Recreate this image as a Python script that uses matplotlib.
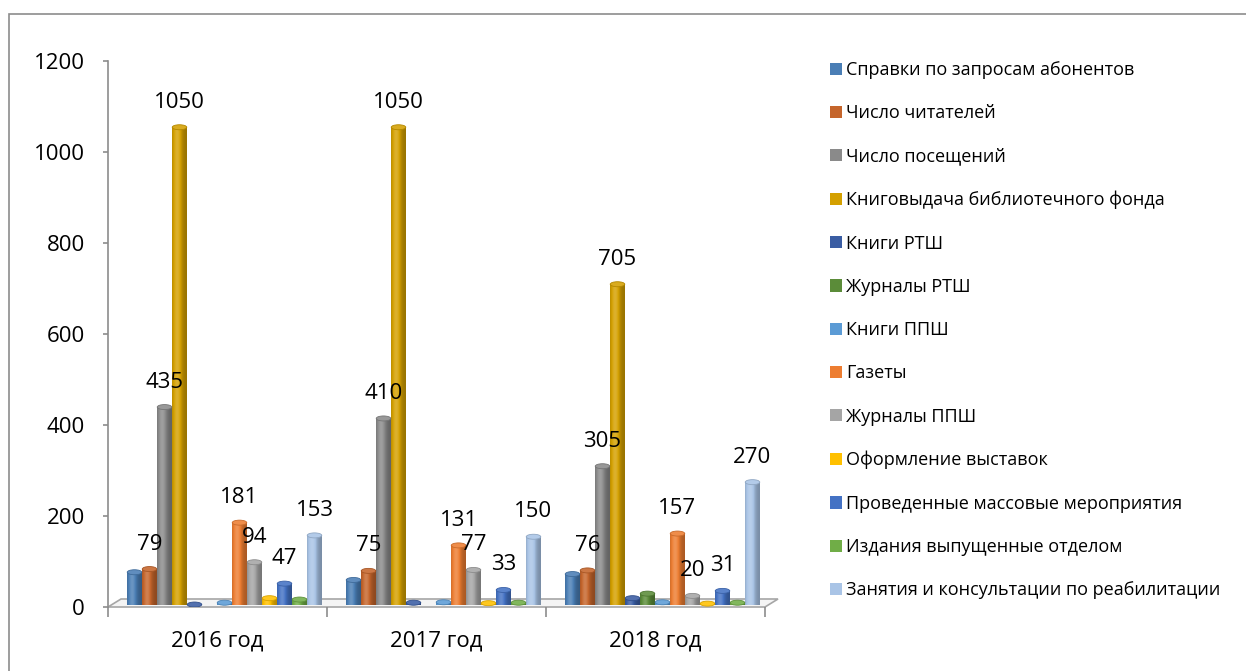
import numpy as np
import matplotlib
matplotlib.use("Agg")
import matplotlib.pyplot as plt
from matplotlib.patches import Rectangle, Ellipse, Polygon
from matplotlib.colors import to_rgb

plt.rcParams['font.family'] = ['Open Sans', 'DejaVu Sans']

# ---------------- data ----------------
years = ["2016 год", "2017 год", "2018 год"]
series_names = [
    "Справки по запросам абонентов",
    "Число читателей",
    "Число посещений",
    "Книговыдача библиотечного фонда",
    "Книги РТШ",
    "Журналы РТШ",
    "Книги ППШ",
    "Газеты",
    "Журналы ППШ",
    "Оформление выставок",
    "Проведенные массовые мероприятия",
    "Издания выпущенные отделом",
    "Занятия и консультации по реабилитации",
]
spravki = [72, 55, 68]
chitateli = [79, 75, 76]
poseshcheniya = [435, 410, 305]
knigovydacha = [1050, 1050, 705]
knigi_rtsh = [1, 5, 15]
zhurnaly_rtsh = [0, 0, 25]
knigi_ppsh = [5, 6, 6]
gazety = [181, 131, 157]
zhurnaly_ppsh = [94, 77, 20]
vystavki = [15, 4, 3]
meropriyatiya = [47, 33, 31]
izdaniya = [12, 5, 5]
zanyatiya = [153, 150, 270]
series_values = [spravki, chitateli, poseshcheniya, knigovydacha, knigi_rtsh,
                 zhurnaly_rtsh, knigi_ppsh, gazety, zhurnaly_ppsh, vystavki,
                 meropriyatiya, izdaniya, zanyatiya]
labelled = {"Число читателей", "Число посещений", "Книговыдача библиотечного фонда",
            "Газеты", "Журналы ППШ", "Проведенные массовые мероприятия",
            "Занятия и консультации по реабилитации"}
colors = ['#4A7EB5', '#C5652B', '#8A8A8A', '#D4A000', '#3A5DA3', '#5B8C39',
          '#5B9BD5', '#ED7D31', '#A5A5A5', '#FFC000', '#4472C4', '#70AD47', '#A9C4E6']

# ---------------- figure ----------------
W, H = 1246, 671
fig = plt.figure(figsize=(W / 100, H / 100), dpi=100)
ax_l, ax_r, ax_b, ax_t = 108, 765, 607, 61
ax = fig.add_axes([ax_l / W, 1 - ax_b / H, (ax_r - ax_l) / W, (ax_b - ax_t) / H])

fig.add_artist(Rectangle((9 / W, -0.1), 2, (H - 14) / H + 0.1, transform=fig.transFigure,
                         fill=False, edgecolor='#8c8c8c', lw=1.2))

px_per_unit = (ax_b - ax_t) / 1200.0
px_per_cat = (ax_r - ax_l) / 3.0
slot = 15 / px_per_cat
bw = slot * 0.97
offset = 7 / px_per_cat
base = 2 / px_per_unit
cap_h = 5 / px_per_unit

# floor
dx, dy = 13 / px_per_cat, 8 / px_per_unit
floor = Polygon([(-0.5, 0), (2.5, 0), (2.5 + dx, dy), (-0.5 + dx, dy)], closed=True,
                facecolor='#f4f4f4', edgecolor='#a6a6a6', lw=1.2, zorder=1, clip_on=False)
ax.add_patch(floor)

prof = np.linspace(0, 1, 40)
shade = 0.78 + 0.42 * np.exp(-((prof - 0.35) / 0.3) ** 2) - 0.06 * prof

def lighten(c, f):
    c = np.array(to_rgb(c))
    if f >= 1:
        return c + (1 - c) * (f - 1)
    return c * f

x = np.arange(len(years))
for j, (name, vals, col) in enumerate(zip(series_names, series_values, colors)):
    xs = x + offset + (j - 6) * slot
    ax.bar(xs, vals, width=bw, bottom=base, color=col, edgecolor='none', zorder=3,
           label=name)
    for xi, v in zip(xs, vals):
        if v <= 0:
            continue
        img = np.array([[np.clip(lighten(col, f), 0, 1) for f in shade]])
        ax.imshow(img, extent=[xi - bw / 2, xi + bw / 2, base, base + v], aspect='auto',
                  zorder=4, interpolation='bilinear')
        ax.add_patch(Ellipse((xi, base + v), bw, cap_h, facecolor=lighten(col, 1.12),
                             edgecolor=lighten(col, 0.85), lw=0.6, zorder=5))
        if name in labelled:
            ax.annotate(str(v), (xi, base + v), xytext=(0, 18), textcoords='offset points',
                        ha='center', va='center', fontsize=16, color='black', zorder=6)

ax.set_xlim(-0.5, 2.5)
ax.set_ylim(0, 1200)
ax.set_yticks(np.arange(0, 1201, 200))
ax.tick_params(axis='y', labelsize=16, length=3.6, color='#8c8c8c', pad=13, width=1.2)
ax.set_xticks(x)
ax.set_xticklabels(years)
ax.tick_params(axis='x', which='major', labelsize=16, length=0, pad=17)
ax.set_xticks([-0.5, 0.5, 1.5, 2.5], minor=True)
ax.tick_params(axis='x', which='minor', length=7, color='#8c8c8c', width=1.2)
for s in ['top', 'right', 'bottom']:
    ax.spines[s].set_visible(False)
ax.spines['left'].set_color('#8c8c8c')
ax.spines['left'].set_linewidth(1.2)
ax.set_facecolor('none')

handles, labels = ax.get_legend_handles_labels()
leg = fig.legend(handles, labels, loc='upper left',
                 bbox_to_anchor=(830 / W, 1 - 61 / H), frameon=False, fontsize=13,
                 labelspacing=1.4, handlelength=0.66, handleheight=0.66,
                 handletextpad=0.25, borderpad=0, borderaxespad=0)

fig.savefig("out.png", dpi=100)
